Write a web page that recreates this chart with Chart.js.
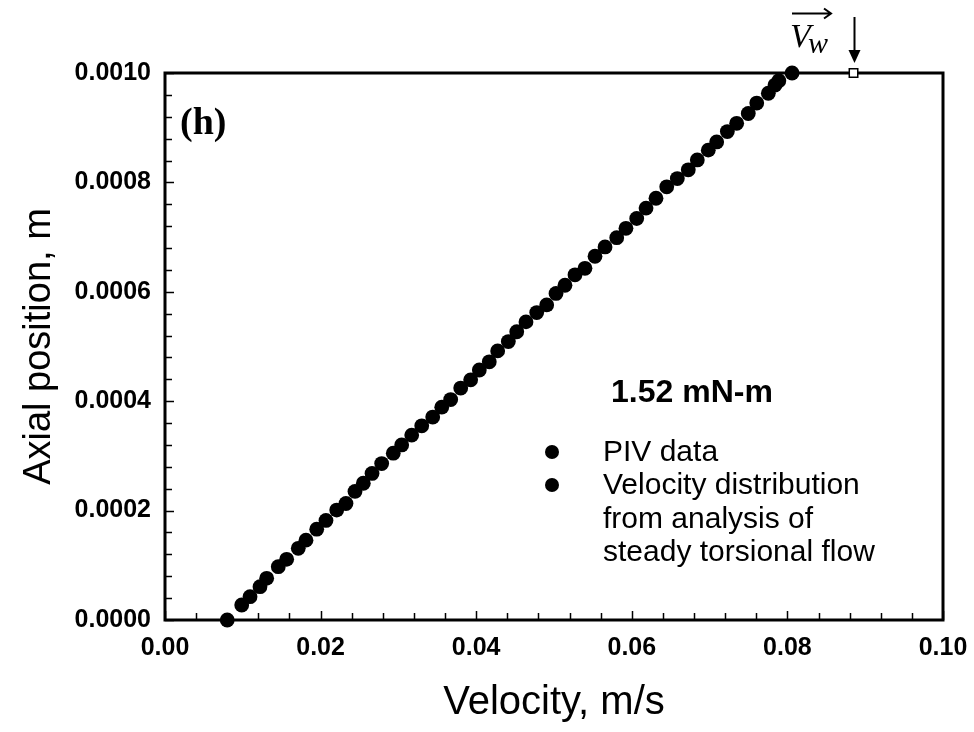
<!DOCTYPE html>
<html>
<head>
<meta charset="utf-8">
<script src="https://cdn.jsdelivr.net/npm/chart.js@4.4.1/dist/chart.umd.min.js"></script>
<style>
  html, body { margin: 0; padding: 0; background: #fff; }
  #wrap { width: 974px; height: 732px; }
</style>
</head>
<body>
<div id="wrap"><canvas id="chart" width="974" height="732"></canvas></div>
<script>
// PIV data (velocity m/s, axial position m)
const pivVelocity = [
    0.00986, 0.01093, 0.01221, 0.01307, 0.01456, 0.01564, 0.01713, 0.01812, 0.01950, 0.02069,
    0.02207, 0.02326, 0.02442, 0.02549, 0.02661, 0.02785, 0.02934, 0.03042, 0.03171, 0.03300,
    0.03441, 0.03557, 0.03672, 0.03801, 0.03929, 0.04040, 0.04168, 0.04276, 0.04413, 0.04521,
    0.04640, 0.04778, 0.04906, 0.05026, 0.05141, 0.05270, 0.05398, 0.05527, 0.05656, 0.05806,
    0.05925, 0.06063, 0.06183, 0.06311, 0.06449, 0.06585, 0.06726, 0.06842, 0.06983, 0.07091,
    0.07228, 0.07348, 0.07497, 0.07606, 0.07755, 0.07841, 0.07890
];
const pivPosition = [
    0.0000274, 0.0000426, 0.0000609, 0.0000762, 0.0000974, 0.000111, 0.000131, 0.000146, 0.000166, 0.000182,
    0.000201, 0.000213, 0.000235, 0.000250, 0.000268, 0.000286, 0.000305, 0.000320, 0.000338, 0.000355,
    0.000371, 0.000389, 0.000403, 0.000424, 0.000439, 0.000457, 0.000472, 0.000492, 0.000509, 0.000527,
    0.000545, 0.000562, 0.000576, 0.000597, 0.000612, 0.000631, 0.000643, 0.000665, 0.000682, 0.000699,
    0.000716, 0.000734, 0.000753, 0.000771, 0.000792, 0.000807, 0.000823, 0.000841, 0.000859, 0.000874,
    0.000893, 0.000908, 0.000926, 0.000945, 0.000963, 0.000978, 0.000986
];

// steady torsional flow analysis (end points visible)
const analysisVelocity = [0.0080, 0.0806];
const analysisPosition = [0.0000, 0.0010];

// wall velocity marker
const wallVelocity = [0.0885];
const wallPosition = [0.0010];

const xTicks = [0.00, 0.02, 0.04, 0.06, 0.08, 0.10];
const yTicks = [0.0000, 0.0002, 0.0004, 0.0006, 0.0008, 0.0010];
const xMinorStep = 0.004;
const yMinorStep = 0.00004;

const torqueLabel = '1.52 mN-m';
const pivLabel = 'PIV data';
const analysisLabel = ['Velocity distribution', 'from analysis of', 'steady torsional flow'];

const SANS = '"Liberation Sans", Arial, sans-serif';
const SERIF = '"Liberation Serif", "DejaVu Serif", serif';

function toPoints(xs, ys) {
    return xs.map((x, i) => ({ x: x, y: ys[i] }));
}

// frame + inward ticks, drawn under the points
const framePlugin = {
    id: 'frame',
    beforeDatasetsDraw(chart) {
        const { ctx, chartArea: a, scales: { x, y } } = chart;
        ctx.save();
        ctx.strokeStyle = '#000';
        ctx.lineWidth = 1.5;
        ctx.beginPath();
        for (let i = 0; i <= Math.round(0.1 / xMinorStep); i++) {
            const v = i * xMinorStep;
            const px = Math.round(x.getPixelForValue(v)) + 0.5;
            const major = i % 5 === 0;
            ctx.moveTo(px, a.bottom);
            ctx.lineTo(px, a.bottom - (major ? 9 : 7));
        }
        for (let i = 0; i <= Math.round(0.001 / yMinorStep); i++) {
            const v = i * yMinorStep;
            const py = Math.round(y.getPixelForValue(v)) + 0.5;
            const major = i % 5 === 0;
            ctx.moveTo(a.left, py);
            ctx.lineTo(a.left + (major ? 9 : 7), py);
        }
        ctx.stroke();
        ctx.lineWidth = 3;
        ctx.strokeRect(a.left, a.top, a.right - a.left, a.bottom - a.top);
        ctx.restore();
    }
};

// panel letter, legend text, wall velocity arrow and label
const notesPlugin = {
    id: 'notes',
    afterDraw(chart) {
        const { ctx, chartArea: a, scales: { x, y } } = chart;
        ctx.save();
        ctx.fillStyle = '#000';
        ctx.strokeStyle = '#000';

        ctx.font = 'bold 38px ' + SERIF;
        ctx.textBaseline = 'alphabetic';
        ctx.textAlign = 'left';
        ctx.fillText('(h)', 180, 134);

        // torque and legend
        ctx.font = 'bold 32px ' + SANS;
        ctx.textBaseline = 'middle';
        ctx.fillText(torqueLabel, 611, 393);

        ctx.font = '30px ' + SANS;
        const sets = chart.data.datasets;
        ctx.beginPath();
        ctx.arc(552, 452, 7, 0, Math.PI * 2);
        ctx.fillStyle = sets[0].backgroundColor;
        ctx.fill();
        ctx.beginPath();
        ctx.arc(552, 485, 7, 0, Math.PI * 2);
        ctx.fillStyle = sets[1].backgroundColor;
        ctx.fill();
        ctx.fillStyle = '#000';
        ctx.fillText(pivLabel, 603, 453);
        analysisLabel.forEach((line, i) => ctx.fillText(line, 603, 486 + i * 33.5));

        // wall velocity arrow
        const wx = Math.round(x.getPixelForValue(wallVelocity[0])) + 0.5;
        const wy = y.getPixelForValue(wallPosition[0]);
        ctx.lineWidth = 2;
        ctx.beginPath();
        ctx.moveTo(wx, wy - 56);
        ctx.lineTo(wx, wy - 20);
        ctx.stroke();
        ctx.beginPath();
        ctx.moveTo(wx - 6, wy - 23);
        ctx.lineTo(wx + 6, wy - 23);
        ctx.lineTo(wx, wy - 10);
        ctx.closePath();
        ctx.fill();

        // V_w with vector arrow
        ctx.textBaseline = 'alphabetic';
        ctx.font = 'italic 34px ' + SERIF;
        ctx.fillText('V', 790, 47);
        ctx.font = 'italic 30px ' + SERIF;
        ctx.fillText('w', 808, 53);
        ctx.lineWidth = 2;
        ctx.beginPath();
        ctx.moveTo(792, 13.5);
        ctx.lineTo(831, 13.5);
        ctx.moveTo(824, 8.5);
        ctx.lineTo(831, 13.5);
        ctx.lineTo(824, 18.5);
        ctx.stroke();
        ctx.restore();
    }
};

const ctx = document.getElementById('chart').getContext('2d');
const chart = new Chart(ctx, {
    type: 'scatter',
    data: {
        datasets: [
            {
                label: pivLabel,
                data: toPoints(pivVelocity, pivPosition),
                backgroundColor: '#000',
                borderWidth: 0,
                pointRadius: 7.4,
                clip: false
            },
            {
                label: analysisLabel.join(' '),
                data: toPoints(analysisVelocity, analysisPosition),
                backgroundColor: '#000',
                borderWidth: 0,
                pointRadius: 7.4,
                clip: false
            },
            {
                label: 'Vw',
                data: toPoints(wallVelocity, wallPosition),
                pointStyle: 'rect',
                backgroundColor: '#fff',
                borderColor: '#000',
                borderWidth: 1.5,
                pointRadius: 6,
                clip: false
            }
        ]
    },
    options: {
        responsive: false,
        animation: false,
        devicePixelRatio: 1,
        layout: { padding: { top: 73, right: 31, left: 0, bottom: 0 } },
        plugins: {
            legend: { display: false },
            tooltip: { enabled: false }
        },
        scales: {
            x: {
                type: 'linear',
                min: 0,
                max: 0.1,
                grid: { display: false, drawTicks: false },
                border: { display: false },
                afterBuildTicks: (scale) => { scale.ticks = xTicks.map(v => ({ value: v })); },
                afterFit: (scale) => {
                    scale.height = 112;
                    scale.paddingLeft = 0;
                    scale.paddingRight = 0;
                },
                ticks: {
                    padding: 13,
                    color: '#000',
                    font: { family: SANS, size: 25, weight: 'bold' },
                    maxRotation: 0,
                    callback: (v) => Number(v).toFixed(2)
                },
                title: {
                    display: true,
                    text: 'Velocity, m/s',
                    color: '#000',
                    font: { family: SANS, size: 40 },
                    padding: { top: 0, bottom: 5 }
                }
            },
            y: {
                type: 'linear',
                min: 0,
                max: 0.001,
                grid: { display: false, drawTicks: false },
                border: { display: false },
                afterBuildTicks: (scale) => { scale.ticks = yTicks.map(v => ({ value: v })); },
                afterFit: (scale) => {
                    scale.width = 165;
                    scale.paddingTop = 0;
                    scale.paddingBottom = 0;
                },
                ticks: {
                    padding: 14,
                    color: '#000',
                    font: { family: SANS, size: 25, weight: 'bold' },
                    callback: (v) => Number(v).toFixed(4)
                },
                title: {
                    display: true,
                    text: 'Axial position, m',
                    color: '#000',
                    font: { family: SANS, size: 38 },
                    padding: { top: 17, bottom: 0 }
                }
            }
        }
    },
    plugins: [framePlugin, notesPlugin]
});
</script>
</body>
</html>
